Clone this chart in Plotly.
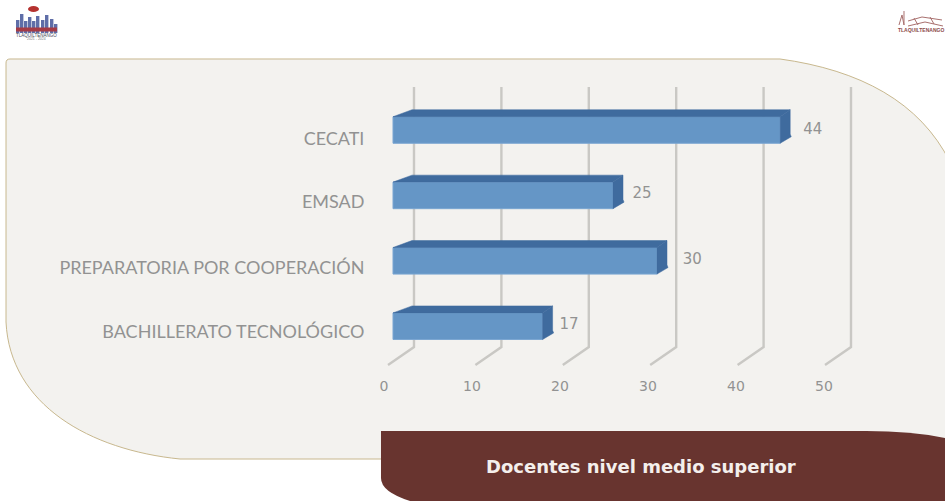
import plotly.graph_objects as go

W, H = 945, 501

categories = ["CECATI", "EMSAD", "PREPARATORIA POR COOPERACIÓN", "BACHILLERATO TECNOLÓGICO"]
values = [44, 25, 30, 17]
x_ticks = [0, 10, 20, 30, 40, 50]
title_text = "Docentes nivel medio superior"
label_nudge_x = [3.7, 3.3, 4.0, 3.0]
label_nudge_y = [0.0, -0.02, -0.01, -0.02]
tick_nudge_y = [0.14, 0.09, 0.1, 0.09]

FRONT = "#6596c6"
DARK = "#3f6b9e"
EDGE = "#7ba6d2"
GRID = "#c9c8c4"
TXT = "#929292"
CARD = "#f3f2ef"
CARD_EDGE = "#c8b88e"
BANNER = "#68342f"

# axis geometry: 8.8 px per unit, 65.4 px per category row
X0, XS = 393.0, 8.8
Y0, YS = 130.0, 65.4
PL, PR, PT, PB = 375.4, 868.2, 80.0, 372.0
x_range = [(PL - X0) / XS, (PR - X0) / XS]
y_range = [(PB - Y0) / YS, (PT - Y0) / YS]
ypos = list(range(len(categories)))
half = 0.203
dy = 0.107
dx_left, dx_right = 2.16, 1.136


def px(x):
    return x / W


def py(y):
    return 1 - y / H


def path(cmds):
    out = []
    for c in cmds:
        if isinstance(c, str):
            out.append(c)
        else:
            out.append(f"{px(c[0]):.5f},{py(c[1]):.5f}")
    return " ".join(out)


shapes = []
# card
shapes.append(dict(type="path", xref="paper", yref="paper", layer="below",
    path=path(["M", (6, 63), "Q", (6, 59), (10, 59), "L", (780, 59),
               "C", (860, 70), (920, 102), (950, 162), "L", (950, 459), "L", (180, 459),
               "C", (90, 450), (10, 405), (6, 322), "Z"]),
    fillcolor=CARD, line=dict(color=CARD_EDGE, width=1)))

# back-wall gridlines and floor lines
wall_scale, wall_off = 0.9932, 2.386
floor_off = -0.568
y_top, y_back, y_front = -0.657, 3.318, 3.593
for t in x_ticks:
    xb = t * wall_scale + wall_off
    xf = t * wall_scale + floor_off
    shapes.append(dict(type="path", xref="x", yref="y", layer="below",
        path=f"M{xb},{y_top} L{xb},{y_back} L{xf},{y_front}",
        line=dict(color=GRID, width=2.4), fillcolor="rgba(0,0,0,0)"))

# banner
shapes.append(dict(type="path", xref="paper", yref="paper", layer="above",
    path=path(["M", (381, 431), "L", (866, 431), "Q", (915, 431), (950, 439),
               "L", (950, 505), "L", (425, 505), "Q", (381, 495), (381, 478), "Z"]),
    fillcolor=BANNER, line=dict(width=0)))

# left logo
shapes.append(dict(type="circle", xref="paper", yref="paper", layer="above",
    x0=px(28), x1=px(39), y0=py(12), y1=py(6), fillcolor="#b5322f", line=dict(width=0)))
for (a, top) in [(16, 20), (20, 14), (24, 21), (28, 17), (32, 21), (36, 16), (41, 20), (45, 15), (50, 19), (54, 24)]:
    shapes.append(dict(type="rect", xref="paper", yref="paper", layer="above",
        x0=px(a), x1=px(a + 3.4), y0=py(33), y1=py(top), fillcolor="#5f6ea8", line=dict(width=0)))
shapes.append(dict(type="rect", xref="paper", yref="paper", layer="above",
    x0=px(16), x1=px(57), y0=py(31.5), y1=py(27.5), fillcolor="#a53a45", line=dict(width=0)))

# right logo
LOGO2 = "#a9716f"
for seg in [[(899, 25), (902, 15), (904, 25)], [(904, 11), (904, 25)],
            [(908, 21), (922, 17), (942, 20)], [(908, 26), (925, 22), (943, 26)],
            [(914, 18), (918, 25)], [(930, 17), (934, 24)]]:
    cmds = ["M", seg[0]] + sum([["L", p] for p in seg[1:]], [])
    shapes.append(dict(type="path", xref="paper", yref="paper", layer="above",
        path=path(cmds), line=dict(color=LOGO2, width=1), fillcolor="rgba(0,0,0,0)"))

fig = go.Figure()
fig.add_bar(y=ypos, x=values, orientation="h", width=2 * half,
            marker=dict(color=FRONT, line=dict(color=EDGE, width=1)), hoverinfo="skip", showlegend=False)

for v, y in zip(values, ypos):
    top, bot = y - half, y + half
    # top face
    fig.add_scatter(x=[0, dx_left, v + dx_right, v, 0], y=[top, top - dy, top - dy, top, top],
                    mode="lines", fill="toself", fillcolor=DARK, line=dict(color=DARK, width=0.5),
                    hoverinfo="skip", showlegend=False)
    # end face
    fig.add_scatter(x=[v, v + dx_right, v + dx_right, v + dx_right + 0.12, v, v],
                    y=[top, top - dy, bot - 0.14, bot - 0.1, bot, top],
                    mode="lines", fill="toself", fillcolor=DARK, line=dict(color=DARK, width=0.5),
                    hoverinfo="skip", showlegend=False)

fig.add_scatter(x=[v + n for v, n in zip(values, label_nudge_x)],
                y=[y + n for y, n in zip(ypos, label_nudge_y)],
                mode="text", text=[str(v) for v in values], textposition="middle center",
                textfont=dict(family="DejaVu Sans", size=15, color=TXT), hoverinfo="skip", showlegend=False)

annotations = [
    dict(xref="paper", yref="paper", x=px(641), y=py(466), text=f"<b>{title_text}</b>", showarrow=False,
         font=dict(family="DejaVu Sans", size=18, color="#f4efec"), xanchor="center", yanchor="middle"),
    dict(xref="paper", yref="paper", x=px(36.5), y=py(35.5), text="TLAQUILTENANGO", showarrow=False,
         font=dict(family="Liberation Sans", size=4.5, color="#444455"), xanchor="center", yanchor="middle"),
    dict(xref="paper", yref="paper", x=px(36.5), y=py(39.5), text="2021 - 2024", showarrow=False,
         font=dict(family="Liberation Sans", size=3.5, color="#777777"), xanchor="center", yanchor="middle"),
    dict(xref="paper", yref="paper", x=px(896), y=py(30.5), text="<b>TLAQUILTENANGO</b>", showarrow=False,
         font=dict(family="Liberation Sans", size=5, color="#8c4a4a"), xanchor="left", yanchor="middle"),
]

fig.update_layout(
    width=W, height=H, autosize=False,
    margin=dict(l=0, r=0, t=0, b=0),
    paper_bgcolor="white", plot_bgcolor="rgba(0,0,0,0)",
    shapes=shapes, annotations=annotations, showlegend=False,
    xaxis=dict(domain=[px(PL), px(PR)], range=x_range, tickvals=x_ticks, ticktext=[str(t) for t in x_ticks],
               showgrid=False, zeroline=False, showline=False, ticks="",
               tickfont=dict(family="DejaVu Sans", size=14, color=TXT), ticklabelshift=-9, ticklabelstandoff=4),
    yaxis=dict(domain=[py(PB), py(PT)], range=y_range,
               tickvals=[y + n for y, n in zip(ypos, tick_nudge_y)], ticktext=categories,
               showgrid=False, zeroline=False, showline=False, ticks="",
               tickfont=dict(family="Lato", size=18, color=TXT), ticklabelstandoff=10),
)

fig.write_html("out.html", config=dict(displayModeBar=False),
               post_script="document.body.style.margin='0';document.body.style.overflow='hidden';")
